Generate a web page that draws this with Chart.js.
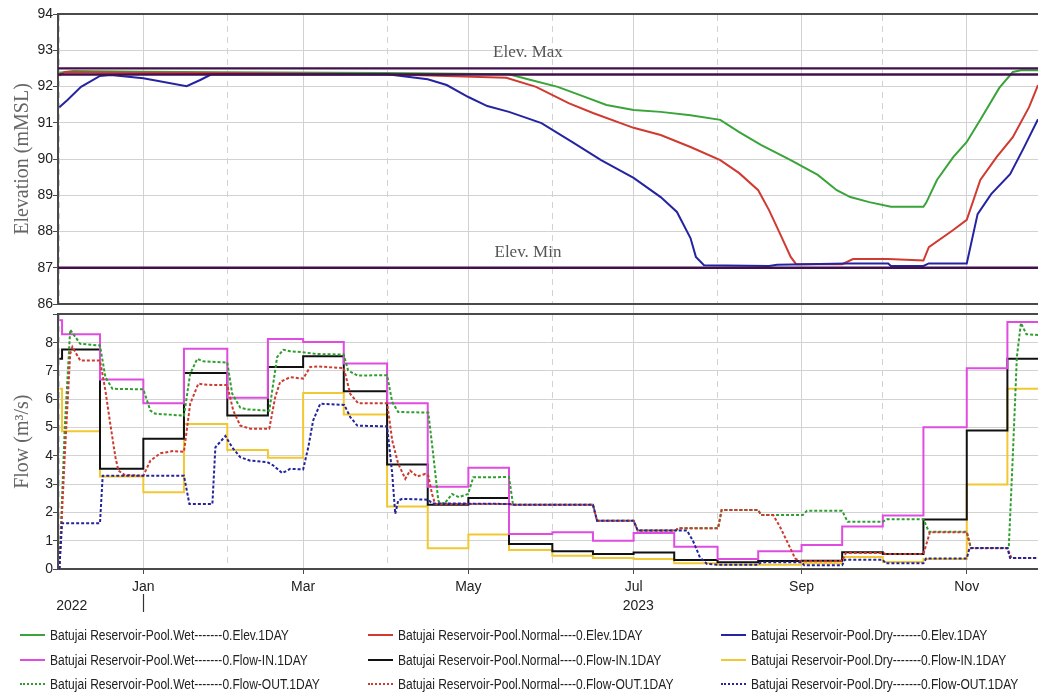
<!DOCTYPE html>
<html>
<head>
<meta charset="utf-8">
<script src="https://cdn.jsdelivr.net/npm/chart.js@4.4.1/dist/chart.umd.min.js"></script>
<style>
html,body{margin:0;padding:0;background:#fff;}
#wrap{position:relative;width:1038px;height:694px;overflow:hidden;background:#fff;}
#c1{position:absolute;left:0;top:0;}
#c2{position:absolute;left:0;top:306px;}
#legend{position:absolute;left:0;top:0;width:1038px;height:694px;pointer-events:none;
  font-family:'Liberation Sans',Arial,sans-serif;font-size:14px;color:#222;}
.item{position:absolute;display:flex;align-items:center;white-space:nowrap;height:18px;}
.swatch{width:25px;height:0;margin-right:5px;flex:none;}
.txt{display:inline-block;transform:scaleX(0.86);transform-origin:left center;}
</style>
</head>
<body>
<div id="wrap">
  <canvas id="c1" width="1038" height="314"></canvas>
  <canvas id="c2" width="1038" height="310"></canvas>
  <div id="legend"></div>
</div>
<script>
// ---------- DATA (x = days since 1 Dec 2022) ----------
const X_MIN = -0.5, X_MAX = 361.3;
const monthStartDays = [0, 31, 62, 90, 121, 151, 182, 212, 243, 274, 304, 335];
const monthLabels    = ['', 'Jan', '', 'Mar', '', 'May', '', 'Jul', '', 'Sep', '', 'Nov'];
const yearTickDays   = [4.6, 31, 213.7];
const yearLabels     = ['2022', '', '2023'];

const refValues   = [92.5, 92.33, 87.0];
const refLabels   = ['Elev. Max', '', 'Elev. Min'];
const refLabelDay = 173;

const seriesLabels = {
  wetElev:    'Batujai Reservoir-Pool.Wet-------0.Elev.1DAY',
  normalElev: 'Batujai Reservoir-Pool.Normal----0.Elev.1DAY',
  dryElev:    'Batujai Reservoir-Pool.Dry-------0.Elev.1DAY',
  wetIn:      'Batujai Reservoir-Pool.Wet-------0.Flow-IN.1DAY',
  normalIn:   'Batujai Reservoir-Pool.Normal----0.Flow-IN.1DAY',
  dryIn:      'Batujai Reservoir-Pool.Dry-------0.Flow-IN.1DAY',
  wetOut:     'Batujai Reservoir-Pool.Wet-------0.Flow-OUT.1DAY',
  normalOut:  'Batujai Reservoir-Pool.Normal----0.Flow-OUT.1DAY',
  dryOut:     'Batujai Reservoir-Pool.Dry-------0.Flow-OUT.1DAY'
};

const wetElev = [[0,92.38],[5,92.43],[30,92.41],[60,92.39],[120,92.37],[166,92.34],[173,92.2],[184,91.99],[192,91.77],[202,91.49],[212,91.35],[222,91.3],[233,91.21],[244,91.08],[251,90.74],[259,90.39],[270,89.97],[280,89.56],[287,89.14],[292,88.95],[299,88.81],[307,88.68],[319,88.68],[320,88.79],[324,89.42],[330,90.05],[335,90.47],[340,91.08],[347,91.96],[352,92.4],[355,92.45],[361.3,92.45]];
const normalElev = [[0,92.3],[2,92.4],[30,92.38],[60,92.37],[120,92.34],[137,92.3],[165,92.24],[176,91.99],[188,91.54],[197,91.27],[212,90.86],[222,90.66],[233,90.33],[244,89.97],[251,89.61],[258,89.14],[262,88.59],[266,87.95],[270,87.3],[272,87.1],[289,87.1],[293,87.24],[306,87.24],[319,87.2],[321,87.57],[330,88.04],[335,88.32],[340,89.42],[346,90.05],[352,90.6],[358,91.43],[361.3,92.04]];
const dryElev = [[0,91.43],[3,91.63],[8,91.99],[15,92.29],[19,92.32],[31,92.23],[47,92.01],[52,92.18],[56,92.33],[121,92.34],[136,92.2],[143,92.04],[151,91.71],[158,91.46],[166,91.3],[178,90.99],[190,90.44],[200,89.97],[212,89.48],[222,88.95],[228,88.54],[233,87.82],[235,87.3],[238,87.07],[262,87.05],[265,87.08],[291,87.12],[306,87.12],[307,87.05],[319,87.05],[321,87.12],[335,87.12],[339,88.48],[344,89.03],[351,89.58],[356,90.3],[361.3,91.1]];

// Inflows: half-monthly values, each holding from its start day
const inflowStartDays = [0, 1, 15, 31, 46, 62, 77, 90, 105, 121, 136, 151, 166, 182, 197, 212, 227, 243, 258, 274, 289, 304, 319, 335, 350];
const wetIn    = [8.79, 8.3, 6.7, 5.86, 7.79, 6.05, 8.13, 8.02, 7.26, 5.86, 2.91, 3.58, 1.24, 1.30, 1.0, 1.27, 0.79, 0.35, 0.63, 0.85, 1.5, 1.89, 5.01, 7.1, 8.73];
const normalIn = [7.43, 7.76, 3.54, 4.6, 6.93, 5.43, 7.14, 7.52, 6.28, 3.69, 2.27, 2.51, 0.88, 0.63, 0.53, 0.58, 0.32, 0.24, 0.28, 0.29, 0.59, 0.53, 1.75, 4.9, 7.43];
const dryIn    = [6.37, 4.87, 3.27, 2.71, 5.13, 4.21, 3.93, 6.22, 5.46, 2.21, 0.73, 1.22, 0.67, 0.47, 0.39, 0.35, 0.2, 0.15, 0.15, 0.2, 0.42, 0.25, 0.35, 2.99, 6.37];

const wetOut = [[0,0],[2,5],[4,8.46],[7.7,7.96],[15,7.9],[17,6.78],[19.6,6.37],[31,6.35],[33.6,5.6],[35.4,5.49],[46,5.42],[48.3,6.9],[50.9,7.43],[53.1,7.34],[62,7.3],[63.8,6.2],[66.8,5.7],[69.4,5.64],[77.5,5.6],[80.4,7.49],[82.7,7.75],[85.2,7.7],[90,7.66],[95,7.6],[105,7.58],[106.6,7.02],[110,6.84],[121,6.85],[122.9,5.9],[125.1,5.55],[136.2,5.53],[138,4.07],[139.9,2.42],[140.6,2.3],[142.5,2.35],[145,2.65],[147.5,2.54],[150.9,2.65],[152.8,3.24],[166,3.25],[167.5,2.27],[197,2.27],[198.5,1.71],[212,1.71],[213.5,1.36],[227.5,1.36],[228.5,1.44],[243.2,1.44],[244.5,2.09],[258,2.09],[259,1.91],[274.5,1.91],[276,2.06],[289,2.06],[291,1.67],[304,1.67],[305.5,1.76],[319,1.76],[321,1.32],[335,1.32],[336.5,0.74],[350.5,0.74],[352,4],[353.5,7.5],[355,8.7],[357,8.3],[361.3,8.27]];
const normalOut = [[0,0],[2,4],[4,7.6],[4.8,7.85],[7.7,7.37],[15,7.37],[17,6.31],[18.8,5.13],[20.7,3.95],[21.8,3.48],[24,3.33],[31,3.3],[33.6,3.83],[37.3,4.09],[42.1,4.17],[46,4.14],[48.3,5.84],[51.3,6.55],[54.6,6.51],[62,6.5],[64.2,5.6],[66.8,5.07],[70.5,4.96],[77.5,4.96],[79.7,6.08],[81.5,6.61],[85.2,6.78],[90,6.73],[92.6,7.14],[95.6,7.16],[105,7.1],[107.4,6.19],[110.3,5.86],[121,5.86],[122.9,4.54],[125.1,3.72],[127.7,3.19],[129.5,3.48],[132.1,3.27],[135.1,3.36],[136.2,3.3],[137.6,2.65],[138.7,2.3],[166,2.3],[167.5,2.27],[197,2.27],[198.5,1.71],[212,1.71],[213.5,1.36],[227.5,1.36],[228.5,1.44],[243.2,1.44],[244.5,2.09],[258,2.09],[259,1.91],[263.5,1.91],[266,1.5],[269,0.91],[271.6,0.38],[273.4,0.27],[289,0.28],[290.4,0.57],[304,0.57],[305,0.53],[319,0.53],[321.4,1.3],[335,1.3],[336.5,0.73],[350,0.73],[351.5,0.39],[361.3,0.39]];
const dryOut = [[0,0],[1,1.62],[15,1.62],[16,3.3],[46,3.3],[48,2.3],[56.5,2.3],[57.6,4.3],[61.3,4.7],[63.8,4.3],[66.8,3.95],[70.5,3.83],[76.8,3.78],[79,3.66],[82.3,3.39],[85.2,3.54],[90,3.52],[91.9,4.3],[93.7,5.25],[96.3,5.84],[105.2,5.8],[107.4,5.37],[110,5.07],[121,5.04],[122.9,3.36],[124,1.95],[125.1,2.42],[126.6,2.48],[136.2,2.45],[137.6,2.32],[166,2.3],[167.5,2.27],[197,2.27],[198.5,1.71],[212,1.71],[213.5,1.36],[231.7,1.36],[233.9,1.0],[236.5,0.41],[239.1,0.18],[243.5,0.15],[258,0.15],[259,0.24],[274,0.24],[275,0.13],[289,0.13],[290,0.33],[304,0.33],[305,0.2],[319,0.2],[320,0.37],[335,0.37],[336,0.74],[350,0.74],[351,0.39],[361.3,0.39]];

// ---------- STYLE ----------
const SANS  = "'Liberation Sans',Arial,sans-serif";
const SERIF = "'Liberation Serif','Times New Roman',serif";
const colors = {
  wetElev:'#3aa43a', normalElev:'#d03a30', dryElev:'#2424a2',
  wetIn:'#e04ce0', normalIn:'#111111', dryIn:'#f2c830',
  wetOut:'#2e9e2e', normalOut:'#cc3a30', dryOut:'#24249c',
  ref:'#42104c'
};
const GRID = '#d2d2d2', AXIS = '#4a4a4a', DOT = [3, 2];

const pts = arr => arr.map(p => ({x: p[0], y: p[1]}));
const stepPts = vals => inflowStartDays.map((d, i) => ({x: d, y: vals[i]})).concat([{x: X_MAX, y: vals[vals.length - 1]}]);

const solidDays = monthStartDays.filter((d, i) => monthLabels[i]);
const solidLabels = monthLabels.filter(l => l);
const dashedDays = monthStartDays.filter((d, i) => !monthLabels[i]);

function xScales(bottomChart) {
  const s = {
    x: {
      type: 'linear', position: 'bottom', min: X_MIN, max: X_MAX,
      afterBuildTicks: sc => { sc.ticks = solidDays.map(v => ({value: v})); },
      ticks: bottomChart
        ? {display: true, autoSkip: false, maxRotation: 0, padding: 5, color: '#222',
           font: {family: SANS, size: 14}, callback: (v, i) => solidLabels[i]}
        : {display: false},
      grid: {color: GRID, lineWidth: 1, drawTicks: true,
             tickLength: bottomChart ? 5 : 10, tickColor: bottomChart ? AXIS : GRID},
      border: {display: true, color: AXIS, width: 2},
      afterFit: sc => { sc.height = bottomChart ? 25 : 10; }
    },
    xd: {
      type: 'linear', position: 'top', min: X_MIN, max: X_MAX,
      afterBuildTicks: sc => { sc.ticks = dashedDays.map(v => ({value: v})); },
      ticks: {display: false},
      grid: {color: GRID, lineWidth: 1, drawTicks: false},
      border: {display: true, color: AXIS, width: 2, dash: [6, 5]},
      afterFit: sc => { sc.height = 0; }
    }
  };
  if (bottomChart) {
    s.xYear = {
      type: 'linear', position: 'bottom', weight: 10, min: X_MIN, max: X_MAX,
      afterBuildTicks: sc => { sc.ticks = yearTickDays.map(v => ({value: v})); },
      ticks: {display: true, autoSkip: false, maxRotation: 0, padding: -14, color: '#222',
              font: {family: SANS, size: 14}, callback: (v, i) => yearLabels[i]},
      grid: {display: true, drawOnChartArea: false, drawTicks: true, tickLength: 18, tickWidth: 1.2,
             tickColor: c => yearLabels[c.index] ? 'rgba(0,0,0,0)' : '#333'},
      border: {display: false},
      afterFit: sc => { sc.height = 22; }
    };
  }
  return s;
}

function yScale(min, max, title, hideTop) {
  return {
    type: 'linear', position: 'left', min: min, max: max,
    ticks: {stepSize: 1, padding: 0, color: '#222', font: {family: SANS, size: 14},
            callback: v => (hideTop && v === max) ? '' : v},
    grid: {color: GRID, lineWidth: 1, drawTicks: true, tickLength: 5, tickColor: AXIS},
    border: {display: true, color: AXIS, width: 2},
    title: {display: true, text: title, color: '#666', font: {family: SERIF, size: 20}, padding: {top: 11, bottom: 0}},
    afterFit: sc => { sc.width = 58; }
  };
}

const refLabelPlugin = {
  id: 'refLabels',
  afterDatasetsDraw(chart) {
    const {ctx, scales} = chart;
    ctx.save();
    ctx.font = '17px ' + SERIF;
    ctx.fillStyle = '#555';
    ctx.textAlign = 'center';
    ctx.textBaseline = 'bottom';
    refValues.forEach((v, i) => {
      if (refLabels[i]) ctx.fillText(refLabels[i], scales.x.getPixelForValue(refLabelDay), scales.y.getPixelForValue(v) - 7);
    });
    ctx.restore();
  }
};

const common = {
  responsive: false, animation: false, devicePixelRatio: 1,
  plugins: {legend: {display: false}, tooltip: {enabled: false}},
  elements: {point: {radius: 0}, line: {borderWidth: 2, tension: 0}},
  events: []
};

// ---------- TOP CHART: elevation ----------
const refSets = refValues.map(v => ({
  label: 'ref' + v, data: [{x: X_MIN, y: v}, {x: X_MAX, y: v}],
  borderColor: colors.ref, borderWidth: 2.4
}));
new Chart(document.getElementById('c1'), {
  type: 'line',
  data: {datasets: refSets.concat([
    {label: seriesLabels.dryElev, data: pts(dryElev), borderColor: colors.dryElev},
    {label: seriesLabels.normalElev, data: pts(normalElev), borderColor: colors.normalElev},
    {label: seriesLabels.wetElev, data: pts(wetElev), borderColor: colors.wetElev}
  ])},
  options: Object.assign({}, common, {
    layout: {padding: {top: 14, right: 0, left: 0, bottom: 0}},
    scales: Object.assign(xScales(false), {y: yScale(86, 94, 'Elevation (mMSL)', false)})
  }),
  plugins: [refLabelPlugin]
});

// ---------- BOTTOM CHART: flow ----------
new Chart(document.getElementById('c2'), {
  type: 'line',
  data: {datasets: [
    {label: seriesLabels.dryOut, data: pts(dryOut), borderColor: colors.dryOut, borderDash: DOT},
    {label: seriesLabels.normalOut, data: pts(normalOut), borderColor: colors.normalOut, borderDash: DOT},
    {label: seriesLabels.wetOut, data: pts(wetOut), borderColor: colors.wetOut, borderDash: DOT},
    {label: seriesLabels.wetIn, data: stepPts(wetIn), borderColor: colors.wetIn, stepped: true},
    {label: seriesLabels.normalIn, data: stepPts(normalIn), borderColor: colors.normalIn, stepped: true},
    {label: seriesLabels.dryIn, data: stepPts(dryIn), borderColor: colors.dryIn, stepped: true}
  ]},
  options: Object.assign({}, common, {
    layout: {padding: {top: 8, right: 0, left: 0, bottom: 0}},
    scales: Object.assign(xScales(true), {y: yScale(0, 9, 'Flow (m\u00B3/s)', true)})
  })
});

// ---------- LEGEND ----------
const legendOrder = ['wetElev', 'normalElev', 'dryElev', 'wetIn', 'normalIn', 'dryIn', 'wetOut', 'normalOut', 'dryOut'];
const legendCols = [20, 368, 721], legendRows = [635, 660, 684];
const lg = document.getElementById('legend');
legendOrder.forEach((k, i) => {
  const it = document.createElement('div');
  it.className = 'item';
  it.style.left = legendCols[i % 3] + 'px';
  it.style.top = (legendRows[Math.floor(i / 3)] - 9) + 'px';
  const sw = document.createElement('div');
  sw.className = 'swatch';
  sw.style.borderTop = '2px ' + (k.endsWith('Out') ? 'dotted ' : 'solid ') + colors[k];
  const tx = document.createElement('span');
  tx.className = 'txt';
  tx.textContent = seriesLabels[k];
  it.appendChild(sw); it.appendChild(tx);
  lg.appendChild(it);
});
</script>
</body>
</html>
